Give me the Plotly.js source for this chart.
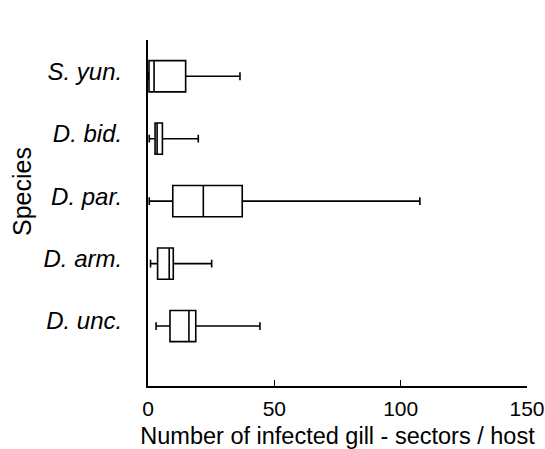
<!DOCTYPE html>
<html>
<head>
<meta charset="utf-8">
<script src="https://cdn.plot.ly/plotly-3.0.1.min.js"></script>
<style>html,body{margin:0;padding:0;background:#fff;}#chart{width:545px;height:449px;}</style>
</head>
<body>
<div id="chart"></div>
<script>
const species = ['S. yun.', 'D. bid.', 'D. par.', 'D. arm.', 'D. unc.'];
const lowerWhisker = [0, 0.5, 0.5, 1, 3.2];
const q1Values = [0.4, 2.8, 9.8, 3.8, 8.7];
const medianValues = [2.4, 3.6, 21.9, 8.4, 16.2];
const q3Values = [14.9, 5.7, 37.3, 10.0, 18.9];
const upperWhisker = [36.4, 19.9, 107.6, 25.2, 44.3];
const xTicks = [0, 50, 100, 150];
const yTitle = 'Species';
const xTitle = 'Number of infected gill - sectors / host';

const trace = {
  type: 'box',
  orientation: 'h',
  y: species,
  lowerfence: lowerWhisker,
  q1: q1Values,
  median: medianValues,
  q3: q3Values,
  upperfence: upperWhisker,
  width: 0.5,
  whiskerwidth: 0.25,
  fillcolor: '#ffffff',
  line: {color: '#000000', width: 1.6},
  boxpoints: false,
  hoverinfo: 'skip'
};

const layout = {
  width: 545, height: 449,
  margin: {l: 148, r: 18, t: 40, b: 63},
  paper_bgcolor: '#ffffff', plot_bgcolor: '#ffffff',
  showlegend: false,
  font: {family: 'Liberation Sans, Arial, sans-serif', color: '#000'},
  xaxis: {
    range: [0, 150],
    tickvals: xTicks,
    ticktext: xTicks.map(String),
    ticks: 'inside', ticklen: 6, tickwidth: 1.5, tickcolor: '#000',
    showline: true, linecolor: '#000', linewidth: 2,
    showgrid: false, zeroline: false,
    tickfont: {size: 21, color: '#000'},
    ticklabelstandoff: 3,
    title: {text: xTitle, font: {size: 23.5, color: '#000'}, standoff: 12}
  },
  yaxis: {
    type: 'category',
    categoryorder: 'array',
    categoryarray: species.slice().reverse(),
    range: [-0.96, 4.58],
    ticks: '',
    showline: true, linecolor: '#000', linewidth: 2,
    showgrid: false, zeroline: false,
    tickfont: {size: 24, color: '#000', style: 'italic'},
    ticklabelstandoff: 19,
    ticklabelshift: -5
  },
  annotations: [{
    text: yTitle,
    xref: 'paper', yref: 'paper',
    x: -0.3325, y: 0.5636,
    xanchor: 'center', yanchor: 'middle',
    textangle: -90,
    showarrow: false,
    font: {size: 25, color: '#000'}
  }]
};

Plotly.newPlot('chart', [trace], layout, {displayModeBar: false, staticPlot: true});
</script>
</body>
</html>
